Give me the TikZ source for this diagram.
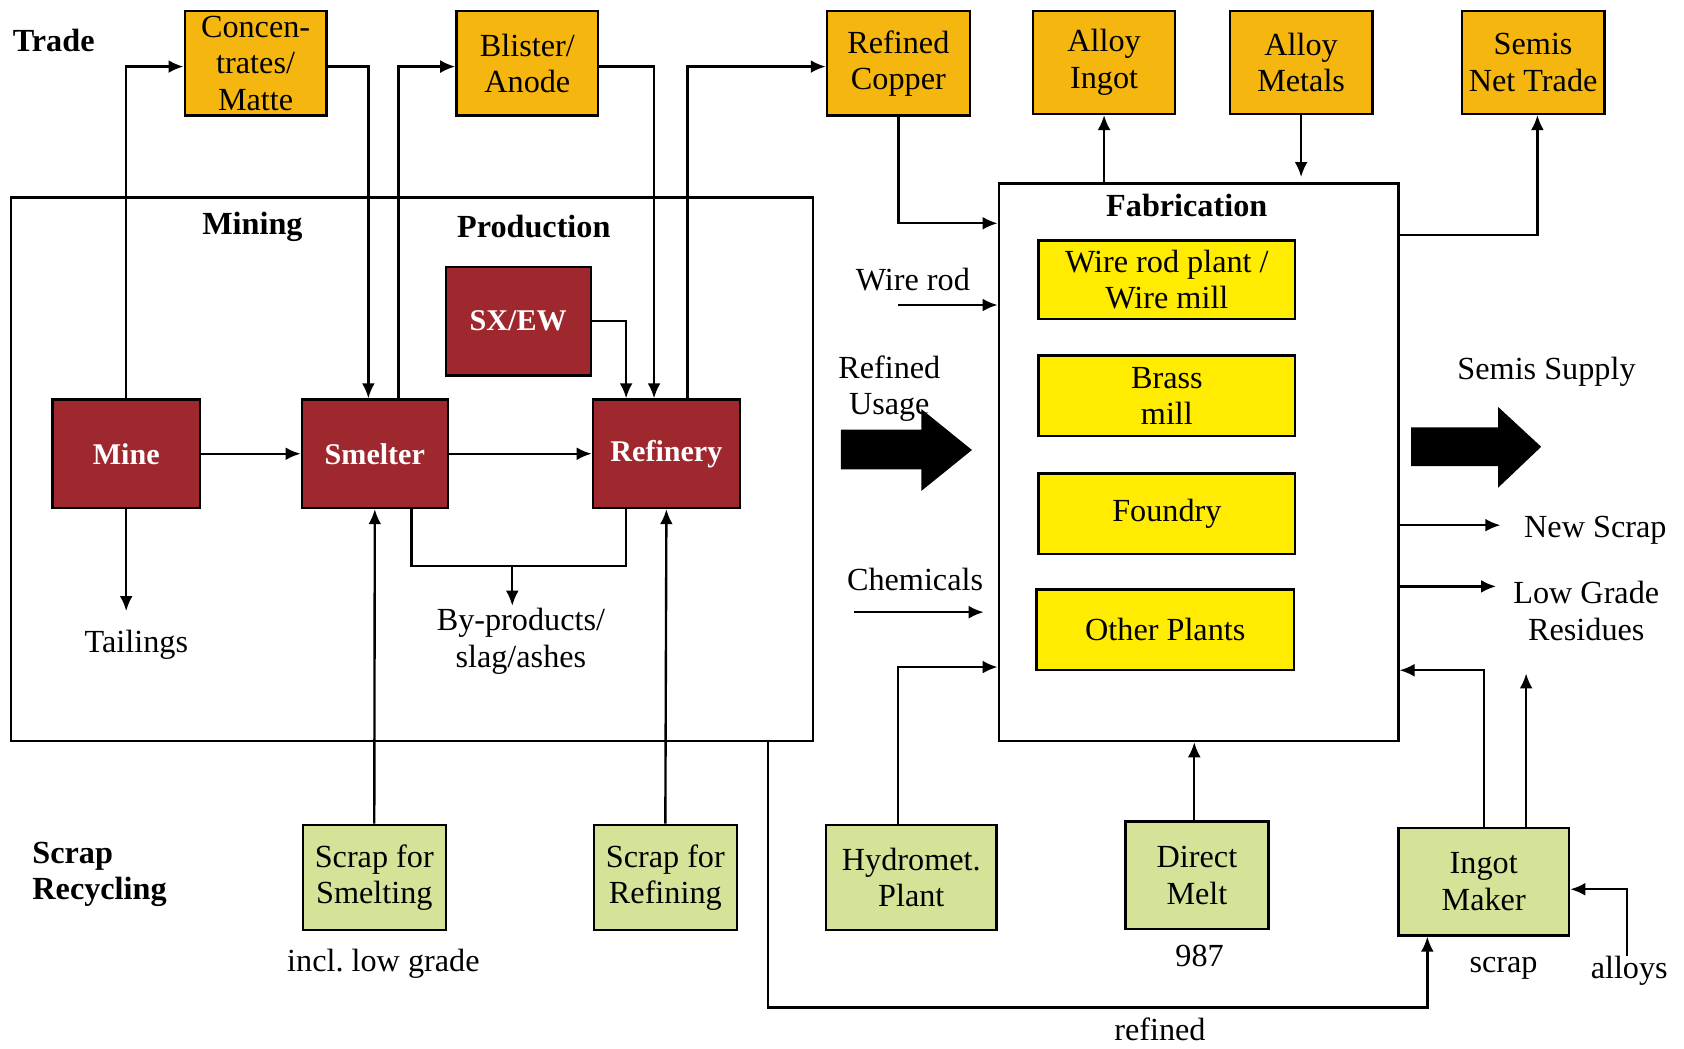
\documentclass[tikz,border=0pt]{standalone}
\usepackage{fontspec}
\setmainfont{Liberation Serif}
\usetikzlibrary{arrows.meta}
\definecolor{tradeor}{RGB}{246,182,16}
\definecolor{procred}{RGB}{158,40,46}
\definecolor{fabyel}{RGB}{255,236,0}
\definecolor{scrapgr}{RGB}{213,227,152}
\frenchspacing
\begin{document}
\begin{tikzpicture}[x=1pt,y=-1pt,
  txt/.style={font=\fontsize{30}{34}\selectfont, align=center, inner sep=0pt},
  hdr/.style={font=\fontsize{30}{34}\selectfont\bfseries, inner sep=0pt, align=left},
  box/.style={draw, line width=2.2pt, inner sep=0pt, align=center, font=\fontsize{30}{34}\selectfont},
  tradebox/.style={box, fill=tradeor, minimum width=132pt, minimum height=97pt},
  procbox/.style={box, fill=procred, text=white, font=\fontsize{28}{32}\selectfont\bfseries, minimum width=136pt, minimum height=101pt},
  fabbox/.style={box, fill=fabyel, minimum width=239pt, minimum height=74pt},
  scrapbox/.style={box, fill=scrapgr, minimum height=98pt},
  frame/.style={draw, line width=2.2pt, inner sep=0pt},
  arr/.style={line width=2.2pt, -{Latex[length=14pt,width=12pt]}},
  ln/.style={line width=2.2pt},
  bigarrow/.style={fill=black}
]
\useasboundingbox (0,0) rectangle (1568,976);
\fill[white] (0,0) rectangle (1568,976);

% frames of the two stages
\node[frame, minimum width=747pt, minimum height=506pt] (prod) at (383.5,437) {};
\node[frame, minimum width=372pt, minimum height=519pt] (fab) at (1116,430.5) {};

% headings
\node[hdr] (trade) at (50,38) {Trade};
\node[hdr, anchor=west] (scraprec) at (30,814) {Scrap\\Recycling};
\node[hdr] (mining) at (235,211) {Mining};
\node[hdr] (production) at (497,211) {Production};
\node[hdr] (fabrication) at (1105,191) {Fabrication};

% trade boxes
\node[tradebox] (conc) at (238,59) {Concen-\\trates/\\Matte};
\node[tradebox] (blister) at (491,59) {Blister/\\Anode};
\node[tradebox, minimum width=133pt] (refcu) at (836.5,59) {Refined\\Copper};
\node[tradebox, minimum height=96pt] (alingot) at (1028,58) {Alloy\\Ingot};
\node[tradebox, minimum width=133pt, minimum height=96pt] (almetals) at (1211.5,58) {Alloy\\Metals};
\node[tradebox, minimum width=133pt, minimum height=96pt] (semis) at (1427.5,58) {Semis\\Net Trade};

% production boxes
\node[procbox, minimum width=135pt] (sxew) at (482.5,299) {SX/EW};
\node[procbox, minimum width=137pt] (mine) at (117.5,422.5) {Mine};
\node[procbox] (smelter) at (349,422.5) {Smelter};
\node[procbox, minimum width=137pt] (refinery) at (620.5,422.5) {Refinery};

% fabrication plants
\node[fabbox, minimum height=73pt] (wire) at (1086.5,260.5) {Wire rod plant /\\Wire mill};
\node[fabbox, minimum height=75pt] (brass) at (1086.5,368.5) {Brass\\mill};
\node[fabbox, minimum height=75pt] (foundry) at (1086.5,478.5) {Foundry};
\node[fabbox, minimum width=240pt, minimum height=75pt] (other) at (1085,586.5) {Other Plants};

% scrap recycling boxes
\node[scrapbox, minimum width=133pt] (ssmelt) at (348.5,817) {Scrap for\\Smelting};
\node[scrapbox, minimum width=133pt] (srefine) at (619.5,817) {Scrap for\\Refining};
\node[scrapbox, minimum width=159pt] (hydro) at (848.5,817) {Hydromet.\\Plant};
\node[scrapbox, minimum width=133pt, minimum height=100pt] (direct) at (1114.5,815) {Direct\\Melt};
\node[scrapbox, minimum width=159pt, minimum height=100pt] (ingot) at (1381.5,821) {Ingot\\Maker};

% plain labels
\node[txt] (tailings) at (127,600) {Tailings};
\node[txt] (byp) at (485,597) {By-products/\\slag/ashes};
\node[txt] (wirerod) at (850,260) {Wire rod};
\node[txt] (refusage) at (828,362) {Refined\\Usage};
\node[txt] (chem) at (852,540) {Chemicals};
\node[txt] (semsup) at (1440,346) {Semis Supply};
\node[txt, anchor=west] (newscrap) at (1419,494) {New Scrap};
\node[txt] (lowgrade) at (1477,569) {Low Grade\\Residues};
\node[txt] (lowgr) at (357,897) {incl. low grade};
\node[txt] (dm987) at (1117,890) {987};
\node[txt] (scraplbl) at (1400,902) {scrap};
\node[txt] (alloys) at (1517,904) {alloys};
\node[txt] (refinedlbl) at (1080,958) {refined};

% free ends of connectors
\coordinate (tailend) at (117.5,569);
\coordinate (bpj) at (477,527);
\coordinate (wrs) at (836,284);
\coordinate (chs) at (795,570);
\coordinate (che) at (916,570);
\coordinate (nse) at (1397,489);
\coordinate (lge) at (1393,546);
\coordinate (lgup) at (1421,627);
\coordinate (refc) at (1000,938);

% mining and production flows
\draw[arr] (mine.north) |- ([yshift=-3pt]conc.west);
\draw[arr] ([yshift=-3pt]conc.east) -| ([xshift=-6pt]smelter.north);
\draw[arr] ([xshift=22pt]smelter.north) |- ([yshift=-3pt]blister.west);
\draw[arr] ([yshift=-3pt]blister.east) -| ([xshift=-11.5pt]refinery.north);
\draw[arr] (sxew.east) -| ([xshift=-37.5pt]refinery.north);
\draw[arr] ([xshift=19.5pt]refinery.north) |- ([yshift=-3pt]refcu.west);
\draw[arr] (mine.east) -- (smelter.west);
\draw[arr] (smelter.east) -- (refinery.west);
\draw[arr] (mine.south) -- (tailend);
\draw[ln] ([xshift=34pt]smelter.south) |- (bpj) -| ([xshift=-37.5pt]refinery.south);
\draw[arr] (bpj) -- ++(0,37);
\draw[arr] (ssmelt.north) -- (smelter.south);
\draw[arr] (srefine.north) -- (refinery.south);

% fabrication inputs and outputs
\draw[arr] (refcu.south) |- ([yshift=-38pt]fab.north west);
\draw[arr] (fab.north -| alingot.south) -- (alingot.south);
\draw[arr] (almetals.south) -- ([yshift=5pt]fab.north -| almetals.south);
\draw[arr] ([yshift=-49pt]fab.north east) -| ([xshift=4pt]semis.south);
\draw[arr] (wrs) -- (wrs -| fab.west);
\draw[arr] (chs) -- (che);
\draw[arr] ([xshift=-12.5pt]hydro.north) |- ([yshift=70pt]fab.south west);
\draw[arr] ([xshift=-2.5pt]direct.north) -- ([xshift=-2.5pt]direct.north |- fab.south);
\draw[arr] (ingot.north) |- ([yshift=67pt]fab.south east);
\draw[arr] ([xshift=39.5pt]ingot.north) -- (lgup);
\draw[arr] ([xshift=-2pt]alloys.north) |- ([yshift=-7pt]ingot.east);
\draw[arr] ([xshift=331.5pt]prod.south) |- (refc) -| ([xshift=-52.5pt]ingot.south);
\draw[arr] (fab.east |- nse) -- (nse);
\draw[arr] (fab.east |- lge) -- (lge);

% broad flow arrows
\fill[bigarrow] (783,400) -- (858,400) -- (858,381) -- (905,419) -- (858,457) -- (858,437) -- (783,437) -- cycle;
\fill[bigarrow] (1314,398) -- (1395,398) -- (1395,379) -- (1435,416) -- (1395,454) -- (1395,434) -- (1314,434) -- cycle;
\end{tikzpicture}
\end{document}
